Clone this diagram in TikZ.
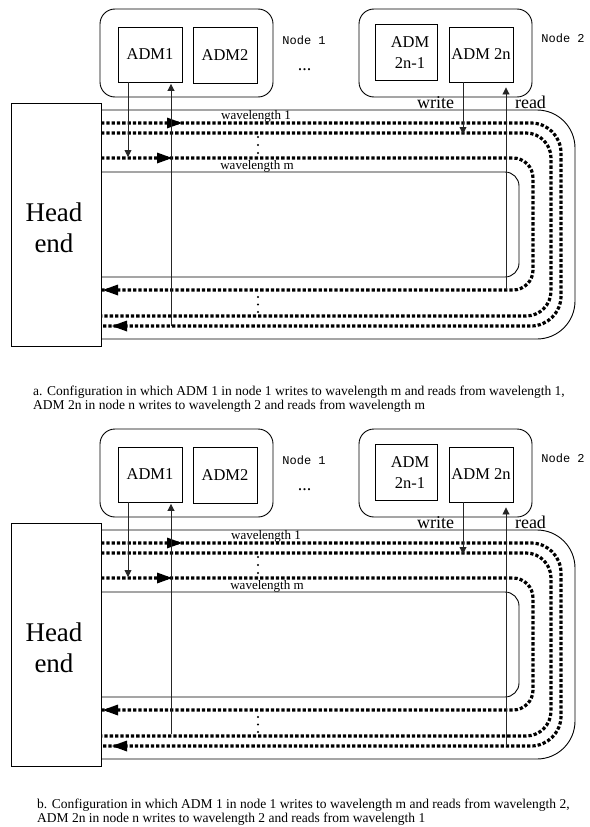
\documentclass[tikz,border=0pt]{standalone}
\usepackage{fontspec}
\setmainfont{Liberation Serif}
\newfontfamily\monofam{Liberation Mono}
\usetikzlibrary{arrows.meta}
\tikzset{
  box/.style={draw, line width=0.9pt, inner sep=0pt},
  grp/.style={draw, line width=0.9pt, rounded corners=15pt, inner sep=0pt},
  fiber/.style={line width=3.2pt, dash pattern=on 3.3pt off 2pt},
  ring/.style={draw, line width=0.9pt},
  tap/.style={line width=0.9pt, draw=black!85, -{Triangle[length=7pt,width=7pt]}},
  bighead/.style={fill=black},
  wl/.style={font=\fontsize{13}{13}\selectfont, inner sep=0pt},
  admtxt/.style={font=\fontsize{16.5}{21}\selectfont, align=center},
  lbl/.style={font=\fontsize{18}{18}\selectfont, anchor=base, inner sep=0pt},
  nlbl/.style={font=\monofam\fontsize{12}{12}\selectfont, inner sep=0pt},
  captxt/.style={font=\fontsize{13.5}{14}\selectfont, align=left, anchor=west, inner sep=0pt},
}
\newcommand\drawpanel[5]{%
\begin{scope}[shift={(0,#2)}, name prefix=#1-]
  % node groups
  \node[grp, minimum width=173pt, minimum height=88pt] (g1) at (186.5,53) {};
  \node[box, admtxt, minimum width=64pt, minimum height=55pt] (adm1) at (150,54.5) {ADM1};
  \node[box, admtxt, minimum width=64pt, minimum height=56pt] (adm2) at (225,55) {ADM2};
  \node[grp, minimum width=173pt, minimum height=88pt] (g2) at (445.5,53) {};
  \node[box, minimum width=62pt, minimum height=56pt] (adm3) at (406,52) {};
  \node[admtxt] (adm3t) at (410,52.5) {ADM\\2n-1};
  \node[box, admtxt, minimum width=64pt, minimum height=55pt] (adm4) at (481,54.5) {ADM 2n};
  \node[nlbl] (n1l) at (304,40) {Node 1};
  \node[nlbl] (n2l) at (563,38) {Node 2};
  \node[lbl] (dots) at (304.5,70) {...};
  % head end
  \node[box, minimum width=90pt, minimum height=243pt] (head) at (56,224.5) {};
  \node[font=\fontsize{27}{31}\selectfont, align=center, inner sep=0pt] (headt) at (54,228) {Head\\end};
  % ring
  \draw[ring, rounded corners=38pt] (101,110) -- (575,110) -- (575,339) -- (101,339);
  \draw[ring, rounded corners=14pt] (101,172) -- (519,172) -- (519,277) -- (101,277);
  % fibres
  \draw[fiber, rounded corners=30pt] (101,123) -- (561,123) -- (561,326) -- (101,326);
  \draw[fiber, rounded corners=25pt] (101,133) -- (551,133) -- (551,316) -- (101,316);
  \draw[fiber, rounded corners=20pt] (101,158) -- (533,158) -- (533,290) -- (101,290);
  % big arrow heads
  \fill[bighead] (167,117.5) -- (182,123) -- (167,128.5) -- cycle;
  \fill[bighead] (157,152.5) -- (172,158) -- (157,163.5) -- cycle;
  \fill[bighead] (118,284.5) -- (103,290) -- (118,295.5) -- cycle;
  \fill[bighead] (127,320.5) -- (112,326) -- (127,331.5) -- cycle;
  % wavelength labels
  \node[wl] (wl1) at (256+#5,116) {wavelength 1};
  \node[wl] (wlm) at (257+#5,166) {wavelength m};
  \foreach \y in {137,145,153} \fill (258,\y) circle (1.1pt);
  \foreach \y in {297,304.5,312} \fill (258,\y) circle (1.1pt);
  % taps
  \coordinate (w1) at (128,157);
  \coordinate (r1) at (171,#3);
  \coordinate (w2) at (463,134);
  \coordinate (r2) at (506,#4);
  \draw[tap] (adm1.south -| w1) -- (w1);
  \draw[tap, shorten >=1.5pt] (r1) -- (r1 |- adm1.south);
  \draw[tap] (adm4.south -| w2) -- (w2);
  \draw[tap, shorten >=5pt] (r2) -- (r2 |- adm4.south);
  \node[lbl] (wr) at (435.5,108.5) {write};
  \node[lbl] (rd) at (530.5,108.5) {read};
\end{scope}}
\begin{document}
\begin{tikzpicture}[x=1pt, y=-1pt]
  \useasboundingbox[fill=white] (0,0) rectangle (589,827);
  \drawpanel{a}{0}{326}{290}{0}
  \drawpanel{b}{420}{314}{326}{10}
  \node[captxt] (capa) at (33,399) {a. Configuration in which ADM 1 in node 1 writes to wavelength m and reads from wavelength 1,\\ADM 2n in node n writes to wavelength 2 and reads from wavelength m};
  \node[captxt] (capb) at (37,812) {b. Configuration in which ADM 1 in node 1 writes to wavelength m and reads from wavelength 2,\\ADM 2n in node n writes to wavelength 2 and reads from wavelength 1};
\end{tikzpicture}
\end{document}
